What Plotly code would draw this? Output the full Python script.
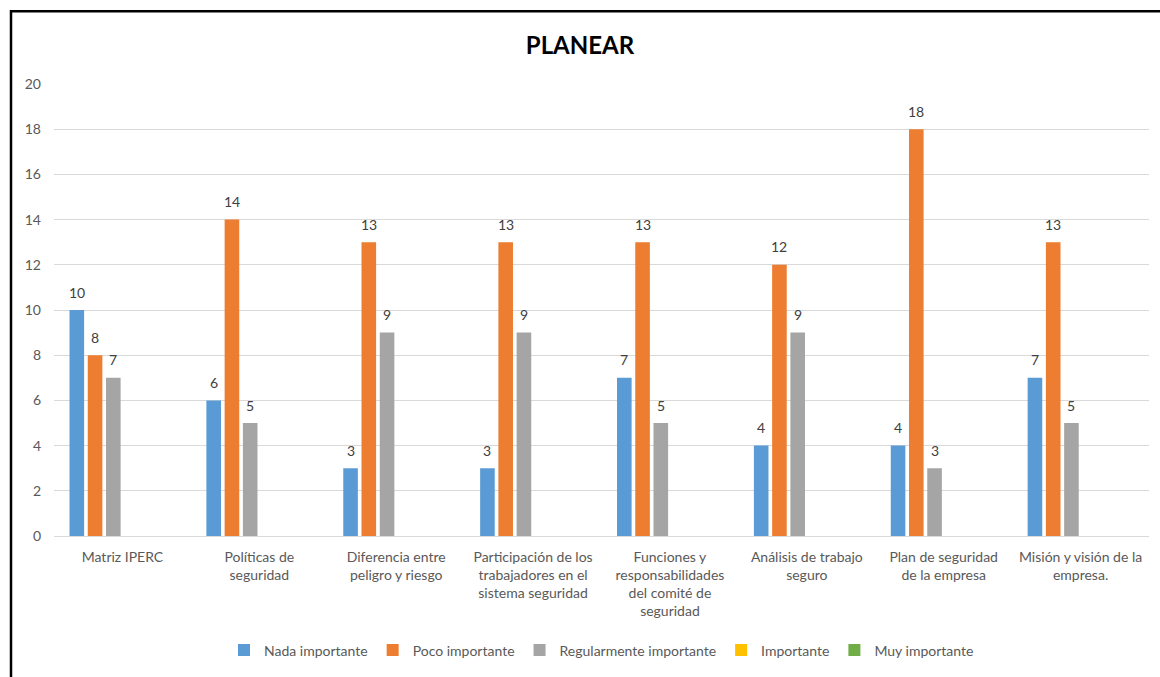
import plotly.graph_objects as go

# Survey results for the "PLANEAR" stage
categories = [
    "Matriz IPERC",
    "Políticas de seguridad",
    "Diferencia entre peligro y riesgo",
    "Participación de los trabajadores en el sistema seguridad",
    "Funciones y responsabilidades del comité de seguridad",
    "Análisis de trabajo seguro",
    "Plan de seguridad de la empresa",
    "Misión y visión de la empresa.",
]
tick_labels = [
    "Matriz IPERC",
    "Políticas de<br>seguridad",
    "Diferencia entre<br>peligro y riesgo",
    "Participación de los<br>trabajadores en el<br>sistema seguridad",
    "Funciones y<br>responsabilidades<br>del comité de<br>seguridad",
    "Análisis de trabajo<br>seguro",
    "Plan de seguridad<br>de la empresa",
    "Misión y visión de la<br>empresa.",
]
nada_importante = [10, 6, 3, 3, 7, 4, 4, 7]
poco_importante = [8, 14, 13, 13, 13, 12, 18, 13]
regular_importante = [7, 5, 9, 9, 5, 9, 3, 5]
importante = [None] * 8
muy_importante = [None] * 8

series = [
    ("Nada importante", nada_importante, "#5B9BD5"),
    ("Poco importante", poco_importante, "#ED7D31"),
    ("Regularmente importante", regular_importante, "#A5A5A5"),
    ("Importante", importante, "#FFC000"),
    ("Muy importante", muy_importante, "#70AD47"),
]

FONT = "Lato"
x_idx = list(range(len(categories)))

# six slots per category, bars fill the first five
n_slots = 6
group_w = 0.8
slot = group_w / n_slots
bar_w = slot * 0.8

fig = go.Figure()
for i, (name, vals, color) in enumerate(series):
    offset = -group_w / 2 + i * slot + (slot - bar_w) / 2
    fig.add_trace(go.Bar(
        x=x_idx,
        y=[v if v is not None else 0 for v in vals],
        name=name,
        marker=dict(color=color, line=dict(width=0)),
        width=bar_w,
        offset=offset,
        hoverinfo="skip",
    ))
    # value labels above each bar
    for xi, v in zip(x_idx, vals):
        if v is None:
            continue
        fig.add_annotation(
            x=xi + offset + bar_w / 2, y=v,
            xref="x", yref="y",
            text=str(v), showarrow=False,
            yanchor="middle", yshift=18,
            font=dict(family=FONT, size=14, color="#404040"),
        )

fig.update_layout(
    barmode="overlay",
    width=1160,
    height=677,
    paper_bgcolor="white",
    plot_bgcolor="white",
    margin=dict(l=54, r=11, t=84, b=139),
    title=dict(
        text="<b>PLANEAR</b>",
        x=0.5, xanchor="center",
        y=1 - 46 / 677, yanchor="middle",
        font=dict(family=FONT, size=24, color="#000000"),
    ),
    font=dict(family=FONT, size=14, color="#595959"),
    showlegend=True,
    legend=dict(
        orientation="h",
        x=0.5, xanchor="center",
        y=(538 - 653) / 454, yanchor="middle",
        yref="paper",
        font=dict(family=FONT, size=14, color="#595959"),
        itemwidth=30,
        traceorder="normal",
    ),
)

fig.update_xaxes(
    range=[-0.5, len(categories) - 0.5],
    tickmode="array",
    tickvals=x_idx,
    ticktext=tick_labels,
    showgrid=False,
    zeroline=False,
    showline=True,
    linecolor="#D9D9D9",
    linewidth=1,
    ticks="",
    ticklabelstandoff=8,
    automargin=False,
    tickfont=dict(family=FONT, size=14, color="#595959"),
    fixedrange=True,
)
fig.update_yaxes(
    range=[0, 20],
    dtick=2,
    showgrid=True,
    gridcolor="#D9D9D9",
    gridwidth=1,
    zeroline=False,
    showline=False,
    ticks="",
    ticklabelstandoff=12,
    automargin=False,
    tickfont=dict(family=FONT, size=14, color="#595959"),
    fixedrange=True,
)

# outer frame around the chart
fig.add_shape(
    type="rect",
    xref="paper", yref="paper",
    x0=(11 - 54) / 1095, x1=(1170 - 54) / 1095,
    y0=(538 - 700) / 454, y1=(538 - 11) / 454,
    line=dict(color="#000000", width=2.5),
    fillcolor="rgba(0,0,0,0)",
    layer="above",
)

fig.write_html("out.html")
